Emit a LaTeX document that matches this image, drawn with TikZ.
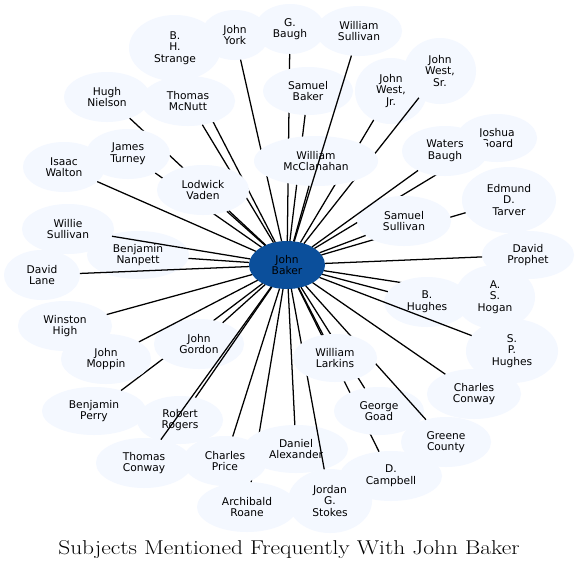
\documentclass[tikz,border=0pt]{standalone}
\usepackage{fontspec}
\usepackage{graphicx}
\newfontfamily\dvs{DejaVu Sans}
\usetikzlibrary{shapes.geometric}
\definecolor{pale}{HTML}{F4F8FF}
\definecolor{bakerblue}{RGB}{11,79,155}
\tikzset{
  subj/.style 2 args={ellipse, fill=pale, draw=none, inner sep=0pt, outer sep=0pt,
    minimum width=#1*1.5pt, minimum height=#2*1.5pt, align=center,
    font=\dvs\fontsize{8}{8.7}\selectfont, text=black},
  link/.style={draw=black, line width=0.95pt},
  titletext/.style={font=\fontsize{15}{18}\selectfont, text=black, inner sep=0pt}
}
\begin{document}
\begin{tikzpicture}[x=0.75pt,y=-0.75pt]
\useasboundingbox[fill=white] (0,0) rectangle (579,572);
\node[subj={38}{24}, fill=bakerblue] (baker) at (287,265) {John\\Baker};
% order of drawing: node then its connector
\node[subj={34}{25}] (york) at (235,35) {John\\York};
\draw[link] (baker) -- (york);
\node[subj={35}{25}] (gbaugh) at (290,29) {G.\\Baugh};
\draw[link] (baker) -- (gbaugh);
\node[subj={45}{24}] (sbaker) at (308,91) {Samuel\\Baker};
\draw[link] (baker) -- (sbaker);
\node[subj={36}{33}] (westjr) at (391,91) {John\\West,\\Jr.};
\draw[link] (baker) -- (westjr);
\node[subj={36}{33}] (westsr) at (440,71) {John\\West,\\Sr.};
\draw[link] (baker) -- (westsr);
\node[subj={62}{25}] (mcclan) at (316,161) {William\\McClanahan};
\draw[link] (baker) -- (mcclan);
\node[subj={43}{25}] (wsull) at (359,31) {William\\Sullivan};
\draw[link] (baker) -- (wsull);
\node[subj={46}{33}] (strange) at (175,48) {B.\\H.\\Strange};
\draw[link] (baker) -- (strange);
\node[subj={47}{25}] (mcnutt) at (188,101) {Thomas\\McNutt};
\draw[link] (baker) -- (mcnutt);
\node[subj={43}{25}] (nielson) at (107,97) {Hugh\\Nielson};
\draw[link] (baker) -- (nielson);
\node[subj={42}{25}] (turney) at (128,154) {James\\Turney};
\draw[link] (baker) -- (turney);
\node[subj={46}{25}] (vaden) at (203,190) {Lodwick\\Vaden};
\draw[link] (baker) -- (vaden);
\node[subj={41}{25}] (walton) at (64,167) {Isaac\\Walton};
\draw[link] (baker) -- (walton);
\node[subj={51}{24}] (nanpett) at (138,255) {Benjamin\\Nanpett};
\draw[link] (baker) -- (nanpett);
\node[subj={46}{25}] (willie) at (68,229) {Willie\\Sullivan};
\draw[link] (baker) -- (willie);
\node[subj={38}{25}] (lane) at (42,275) {David\\Lane};
\draw[link] (baker) -- (lane);
\node[subj={47}{25}] (high) at (65,326) {Winston\\High};
\draw[link] (baker) -- (high);
\node[subj={52}{24}] (perry) at (94,411) {Benjamin\\Perry};
\draw[link] (baker) -- (perry);
\node[subj={45}{25}] (gordon) at (199,344) {John\\Gordon};
\draw[link] (baker) -- (gordon);
\node[subj={45}{25}] (moppin) at (106,359) {John\\Moppin};
\draw[link] (baker) -- (moppin);
\node[subj={43}{24}] (rogers) at (180,420) {Robert\\Rogers};
\draw[link] (baker) -- (rogers);
\node[subj={48}{25}] (tconway) at (144,463) {Thomas\\Conway};
\draw[link] (baker) -- (tconway);
\node[subj={50}{25}] (roane) at (247,507) {Archibald\\Roane};
\draw[link] (baker) -- (roane);
\node[subj={42}{25}] (price) at (225,461) {Charles\\Price};
\draw[link] (baker) -- (price);
\node[subj={52}{24}] (daniel) at (296,449) {Daniel\\Alexander};
\draw[link] (baker) -- (daniel);
\node[subj={42}{32}] (stokes) at (330,501) {Jordan\\G.\\Stokes};
\draw[link] (baker) -- (stokes);
\node[subj={51}{25}] (campbell) at (391,476) {D.\\Campbell};
\draw[link] (baker) -- (campbell);
\node[subj={45}{24}] (goad) at (379,411) {George\\Goad};
\draw[link] (baker) -- (goad);
\node[subj={45}{25}] (greene) at (446,442) {Greene\\County};
\draw[link] (baker) -- (greene);
\node[subj={42}{24}] (larkins) at (335,358) {William\\Larkins};
\draw[link] (baker) -- (larkins);
\node[subj={47}{25}] (cconway) at (474,394) {Charles\\Conway};
\draw[link] (baker) -- (cconway);
\node[subj={40}{32}] (hogan) at (495,297) {A.\\S.\\Hogan};
\draw[link] (baker) -- (hogan);
\node[subj={43}{25}] (bhughes) at (427,302) {B.\\Hughes};
\draw[link] (baker) -- (bhughes);
\node[subj={46}{32}] (sphughes) at (512,351) {S.\\P.\\Hughes};
\draw[link] (baker) -- (sphughes);
\node[subj={46}{24}] (prophet) at (528,255) {David\\Prophet};
\draw[link] (baker) -- (prophet);
\node[subj={47}{33}] (tarver) at (509,200) {Edmund\\D.\\Tarver};
\draw[link] (baker) -- (tarver);
\node[subj={40}{24}] (goard) at (497,138) {Joshua\\Goard};
\draw[link] (baker) -- (goard);
\node[subj={47}{25}] (ssull) at (404,221) {Samuel\\Sullivan};
\draw[link] (baker) -- (ssull);
\node[subj={43}{25}] (waters) at (445,151) {Waters\\Baugh};
\draw[link] (baker) -- (waters);
\node[titletext] (title) at (289,550) {\scalebox{1.17}[1]{Subjects Mentioned Frequently With John Baker}};
\end{tikzpicture}
\end{document}
